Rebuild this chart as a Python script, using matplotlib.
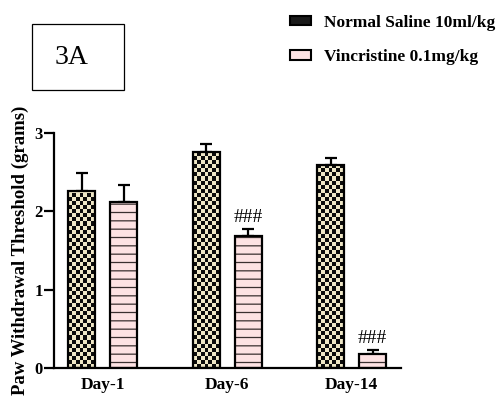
import numpy as np
import matplotlib
matplotlib.use('Agg')
import matplotlib.pyplot as plt
from matplotlib.patches import Patch, Rectangle

plt.rcParams['font.family'] = 'Liberation Serif'
plt.rcParams['hatch.linewidth'] = 0.9

# data
days = ['Day-1', 'Day-6', 'Day-14']
saline = [2.26, 2.76, 2.59]
saline_err = [0.23, 0.10, 0.09]
vinc = [2.12, 1.69, 0.18]
vinc_err = [0.22, 0.09, 0.05]
marks = ['', '###', '###']

cream = '#efe7c6'
pink = '#fde2e3'

fig = plt.figure(figsize=(4.99, 3.98), dpi=100)
ax = fig.add_axes([0.1082, 0.0761, 0.6954, 0.589])

x = np.arange(len(days))
off = 0.169
w = 0.217

# saline bars with a checkerboard fill
b1 = ax.bar(x - off, saline, w, color=cream, edgecolor='none', zorder=2)
cell = 0.052
for bar in b1:
    bx, bw, bh = bar.get_x(), bar.get_width(), bar.get_height()
    nx = 7
    ny = max(1, int(round(bh / cell)))
    grid = (np.add.outer(np.arange(ny), np.arange(nx)) % 2).astype(float)
    img = np.zeros((ny, nx, 3))
    c = np.array(matplotlib.colors.to_rgb(cream))
    img[grid == 0] = c
    img[grid == 1] = [0.05, 0.05, 0.05]
    im = ax.imshow(img, extent=[bx, bx + bw, 0, ny * cell], aspect='auto',
                   interpolation='nearest', origin='lower', zorder=2.5)
    im.set_clip_path(bar)
ax.bar(x - off, saline, w, fill=False, edgecolor='black', linewidth=1.6, zorder=3)

# vincristine bars with horizontal lines
b2 = ax.bar(x + off, vinc, w, color=pink, edgecolor='#3a3030', hatch='--',
            linewidth=0, zorder=2)
ax.bar(x + off, vinc, w, fill=False, edgecolor='black', linewidth=1.6, zorder=3)

# error bars, upper side only
ax.errorbar(x - off, saline, yerr=[np.zeros(3), saline_err], fmt='none',
            ecolor='black', elinewidth=1.6, capsize=4.5, capthick=1.6, zorder=1)
ax.errorbar(x + off, vinc, yerr=[np.zeros(3), vinc_err], fmt='none',
            ecolor='black', elinewidth=1.6, capsize=4.5, capthick=1.6, zorder=1)

for i in range(len(days)):
    if marks[i]:
        ax.text(x[i] + off, vinc[i] + vinc_err[i] + 0.14, marks[i],
                ha='center', va='center', fontsize=14)

ax.set_xlim(-0.394, 2.398)
ax.set_ylim(0, 3)
ax.set_yticks([0, 1, 2, 3])
ax.set_xticks(x)
ax.set_xticklabels(days, fontsize=12.5, fontweight='bold')
for t in ax.get_yticklabels():
    t.set_fontsize(12)
    t.set_fontweight('bold')
ax.tick_params(axis='x', length=0, pad=7)
ax.tick_params(axis='y', length=7, width=1.6, pad=1)
for s in ['top', 'right']:
    ax.spines[s].set_visible(False)
for s in ['left', 'bottom']:
    ax.spines[s].set_linewidth(1.6)

ax.set_ylabel('Paw Withdrawal Threshold (grams)', fontsize=13.5,
              fontweight='bold')
ax.yaxis.set_label_coords(-0.072, 0.5)

# panel tag
fig.patches.append(Rectangle((32 / 499, 1 - 90 / 398), 92 / 499, 66 / 398,
                             transform=fig.transFigure, fill=False,
                             edgecolor='black', linewidth=0.9))
fig.text(71 / 499, 1 - 57 / 398, '3A', fontsize=20, ha='center', va='center')

handles = [Patch(facecolor='#1a1a1a', edgecolor='black', linewidth=1.5),
           Patch(facecolor=pink, edgecolor='black', linewidth=1.5)]
fig.legend(handles, ['Normal Saline 10ml/kg', 'Vincristine 0.1mg/kg'],
           loc='upper left', bbox_to_anchor=(290 / 499, 1 - 15 / 398),
           frameon=False, borderpad=0, borderaxespad=0,
           handlelength=1.2, handleheight=0.45, handletextpad=0.75,
           labelspacing=1.05, prop={'weight': 'bold', 'size': 12.5})

fig.savefig('out.png', dpi=100)
